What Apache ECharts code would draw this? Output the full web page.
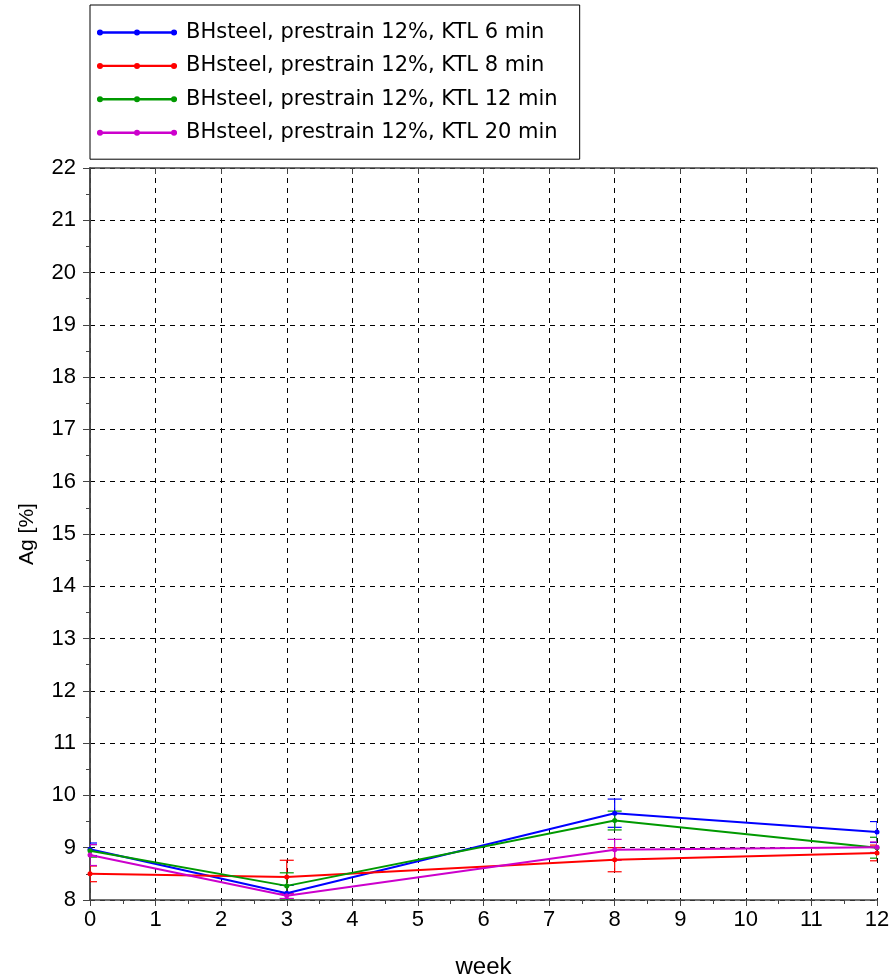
<!DOCTYPE html>
<html><head><meta charset="utf-8">
<script src="https://cdn.jsdelivr.net/npm/echarts@6/dist/echarts.min.js"></script>
<style>html,body{margin:0;padding:0;background:#fff}#c{width:894px;height:979px}</style>
</head><body><div id="c"></div>
<script>
const weeks = [0, 3, 8, 12];
const names = ['BHsteel, prestrain 12%, KTL 6 min','BHsteel, prestrain 12%, KTL 8 min','BHsteel, prestrain 12%, KTL 12 min','BHsteel, prestrain 12%, KTL 20 min'];
const colors = ['#0000ff','#ff0000','#009900','#cc00cc'];
const ktl6 = [8.97, 8.13, 9.66, 9.30];
const ktl8 = [8.50, 8.44, 8.77, 8.90];
const ktl12 = [8.94, 8.27, 9.52, 9.00];
const ktl20 = [8.86, 8.08, 8.96, 9.01];
const err6 = [0.12, 0.15, 0.27, 0.20];
const err8 = [0.15, 0.32, 0.23, 0.15];
const err12 = [0.12, 0.25, 0.18, 0.20];
const err20 = [0.20, 0.05, 0.20, 0.10];
const xTicks = [0,1,2,3,4,5,6,7,8,9,10,11,12];
const yTicks = [8,9,10,11,12,13,14,15,16,17,18,19,20,21,22];

const vals = [ktl6, ktl8, ktl12, ktl20];
const errs = [err6, err8, err12, err20];

const font = 'Liberation Sans, Arial, sans-serif';
const icon = 'path://M0,2.8L80,2.8L80,5.2L0,5.2Z M0,4a3,3 0 1,1 6,0a3,3 0 1,1 -6,0Z M37,4a3,3 0 1,1 6,0a3,3 0 1,1 -6,0Z M74,4a3,3 0 1,1 6,0a3,3 0 1,1 -6,0Z';

const series = [];
vals.forEach((v, i) => {
  series.push({
    name: names[i], type: 'line', xAxisIndex: 0, yAxisIndex: 0,
    data: weeks.map((w, k) => [w, v[k]]),
    symbol: 'circle', symbolSize: 5, showSymbol: true,
    lineStyle: {color: colors[i], width: 2},
    itemStyle: {color: colors[i], borderWidth: 0},
    z: 3
  });
  series.push({
    name: 'err' + i, type: 'custom', xAxisIndex: 0, yAxisIndex: 0,
    data: weeks.map((w, k) => [w, v[k], errs[i][k]]),
    renderItem: function (params, api) {
      const x = api.value(0), y = api.value(1), e = api.value(2);
      const hi = api.coord([x, y + e]);
      const lo = api.coord([x, y - e]);
      const cw = 7;
      const st = {stroke: colors[i], lineWidth: 1.2};
      return {type: 'group', children: [
        {type: 'line', shape: {x1: hi[0], y1: hi[1], x2: lo[0], y2: lo[1]}, style: st},
        {type: 'line', shape: {x1: hi[0]-cw, y1: hi[1], x2: hi[0]+cw, y2: hi[1]}, style: st},
        {type: 'line', shape: {x1: lo[0]-cw, y1: lo[1], x2: lo[0]+cw, y2: lo[1]}, style: st}
      ]};
    },
    clip: true, z: 2, silent: true
  });
});

const axisLine = {show: true, lineStyle: {color: '#444', width: 1.5}};
const grid = {left: 90, right: 17, top: 168, bottom: 79, containLabel: false, outerBoundsMode: 'none'};

const option = {
  animation: false,
  backgroundColor: '#fff',
  grid: grid,
  legend: {
    data: names.map((n, i) => ({name: n, itemStyle: {color: colors[i], borderWidth: 0, opacity: 1}})),
    orient: 'vertical', left: 90, top: 5,
    icon: icon, itemWidth: 80, itemHeight: 8, itemGap: 12.4,
    padding: [17, 22, 16, 7],
    backgroundColor: '#fff', borderColor: '#000', borderWidth: 1,
    textStyle: {fontFamily: 'DejaVu Sans, sans-serif', fontSize: 21, color: '#000', padding: [0,0,0,4]},
    selectedMode: false
  },
  xAxis: [{
    type: 'value', min: 0, max: 12, interval: 1, position: 'bottom',
    name: 'week', nameLocation: 'middle', nameGap: 55,
    nameTextStyle: {fontFamily: font, fontSize: 24, color: '#000'},
    axisLine: axisLine,
    axisTick: {show: true, length: 6, lineStyle: {color: '#444'}},
    minorTick: {show: true, splitNumber: 2, length: 4, lineStyle: {color: '#444'}},
    axisLabel: {fontFamily: font, fontSize: 22, color: '#000', margin: 9, customValues: xTicks},
    splitLine: {show: true, lineStyle: {color: '#000', type: [5, 5], width: 1}}
  }, {
    type: 'value', min: 0, max: 12, interval: 1, position: 'top',
    axisLine: axisLine,
    axisTick: {show: true, inside: true, length: 6, lineStyle: {color: '#444'}},
    axisLabel: {show: false}, splitLine: {show: false}
  }],
  yAxis: [{
    type: 'value', min: 8, max: 22, interval: 1, position: 'left',
    name: 'Ag [%]', nameLocation: 'middle', nameGap: 52, nameRotate: 90,
    nameTextStyle: {fontFamily: font, fontSize: 21, color: '#000'},
    axisLine: axisLine,
    axisTick: {show: true, length: 7, lineStyle: {color: '#444'}},
    minorTick: {show: true, splitNumber: 2, length: 4, lineStyle: {color: '#444'}},
    axisLabel: {fontFamily: font, fontSize: 22, color: '#000', margin: 14, customValues: yTicks},
    splitLine: {show: true, lineStyle: {color: '#000', type: [5, 5], width: 1}}
  }, {
    type: 'value', min: 8, max: 22, interval: 1, position: 'right',
    axisLine: axisLine,
    axisTick: {show: false},
    axisLabel: {show: false}, splitLine: {show: false}
  }],
  series: series
};
echarts.init(document.getElementById('c'), null, {renderer: 'canvas'}).setOption(option);
</script></body></html>
